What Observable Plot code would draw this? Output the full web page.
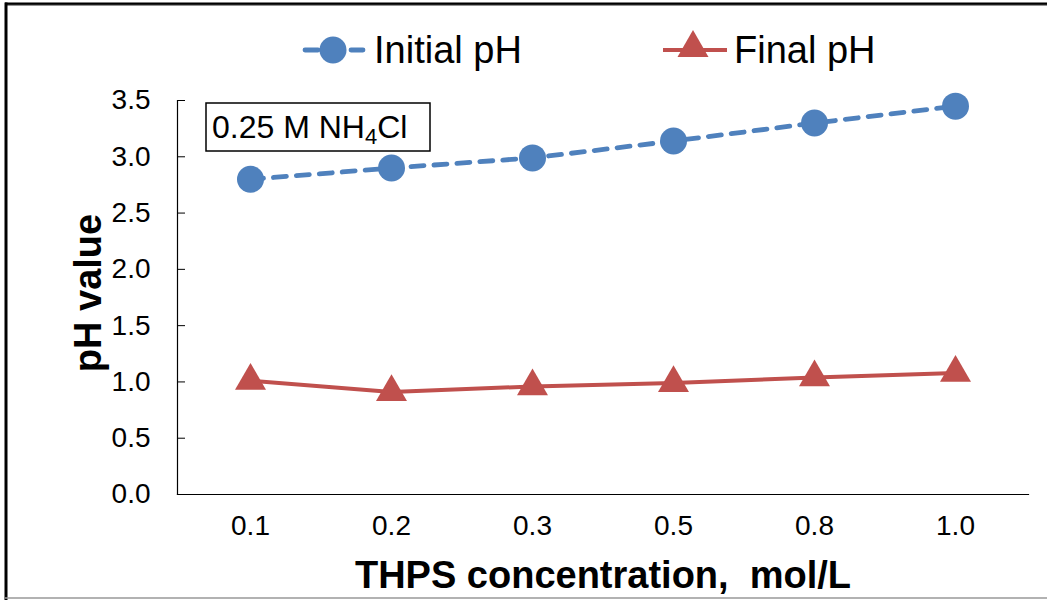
<!DOCTYPE html>
<html><head><meta charset="utf-8">
<script src="https://cdn.jsdelivr.net/npm/d3@7"></script>
<script src="https://cdn.jsdelivr.net/npm/@observablehq/plot@0.6"></script>
<style>
body{margin:0;background:#fff;}
#wrap{position:relative;width:1047px;height:600px;overflow:hidden;font-family:Arial,"Liberation Sans",sans-serif;background:#fff;}
#wrap svg{position:absolute;left:0;top:0;}
</style></head><body><div id="wrap"></div>
<script>
const concentrations = ["0.1", "0.2", "0.3", "0.5", "0.8", "1.0"];
const initialPH = [2.80, 2.90, 2.99, 3.14, 3.30, 3.45];
const finalPH = [1.01, 0.91, 0.96, 0.99, 1.04, 1.08];
const seriesNames = ["Initial pH", "Final pH"];
const yTicks = [0, 0.5, 1.0, 1.5, 2.0, 2.5, 3.0, 3.5];
const xTitle = "THPS concentration,\u00A0 mol/L";
const yTitle = "pH value";

const BLUE = "#4F81BD", RED = "#C0504D";
const initialData = concentrations.map((c, i) => ({c, v: initialPH[i]}));
const finalData = concentrations.map((c, i) => ({c, v: finalPH[i]}));

const chart = Plot.plot({
  width: 1047, height: 600,
  marginLeft: 177, marginRight: 19, marginTop: 100, marginBottom: 106,
  style: {fontFamily: 'Arial, "Liberation Sans", sans-serif', fontSize: "28px", color: "#000", background: "transparent", overflow: "visible"},
  x: {type: "point", domain: concentrations, padding: 0.5, label: null},
  y: {domain: [0, 3.5], label: null},
  marks: [
    Plot.frame({anchor: "left", stroke: "#000", strokeWidth: 1.2}),
    Plot.frame({anchor: "bottom", stroke: "#000", strokeWidth: 1.2}),
    Plot.axisY({ticks: yTicks, tickFormat: d => d.toFixed(1), tickSize: -8, tickPadding: 35, label: null, fill: "#000", fontSize: 28}),
    Plot.axisX({tickSize: 0, tickPadding: 21, label: null, fill: "#000", fontSize: 28}),
    Plot.line(initialData, {x: "c", y: "v", stroke: BLUE, strokeWidth: 4.8, strokeDasharray: "13,10", strokeLinecap: "round"}),
    Plot.dot(initialData, {x: "c", y: "v", r: 13.5, fill: BLUE, symbol: "circle"}),
    Plot.line(finalData, {x: "c", y: "v", stroke: RED, strokeWidth: 4}),
    Plot.dot(finalData, {x: "c", y: "v", r: 11.5, fill: RED, symbol: "triangle"})
  ]
});
const wrap = document.getElementById("wrap");
wrap.appendChild(chart);

// overlay: border, titles, legend, annotation
const ov = d3.select(wrap).append("svg").attr("width", 1047).attr("height", 600)
  .style("font-family", 'Arial, "Liberation Sans", sans-serif');
// border
ov.append("line").attr("x1", 5).attr("x2", 1047).attr("y1", 4).attr("y2", 4).attr("stroke", "#000").attr("stroke-width", 3);
ov.append("line").attr("x1", 1047).attr("x2", 5).attr("y1", 5.3).attr("y2", 5.3).attr("stroke", "#999").attr("stroke-width", 1);
ov.append("line").attr("x1", 6).attr("x2", 6).attr("y1", 2.5).attr("y2", 600).attr("stroke", "#000").attr("stroke-width", 3);
ov.append("line").attr("x1", 5).attr("x2", 1047).attr("y1", 598).attr("y2", 598).attr("stroke", "#999").attr("stroke-width", 1.5);

// axis titles
ov.append("text").attr("x", 603).attr("y", 588).attr("text-anchor", "middle")
  .attr("font-size", 38).attr("font-weight", "bold").text(xTitle);
ov.append("text").attr("transform", "translate(101,293) rotate(-90)").attr("text-anchor", "middle")
  .attr("font-size", 38).attr("font-weight", "bold").text(yTitle);

// legend
const lg = ov.append("g");
lg.append("line").attr("x1", 305).attr("x2", 363).attr("y1", 50).attr("y2", 50)
  .attr("stroke", BLUE).attr("stroke-width", 4.8).attr("stroke-dasharray", "13,10").attr("stroke-linecap", "round");
lg.append("circle").attr("cx", 333).attr("cy", 50).attr("r", 13.5).attr("fill", BLUE);
lg.append("text").attr("x", 374).attr("y", 63).attr("font-size", 38).text(seriesNames[0]);
lg.append("line").attr("x1", 663).attr("x2", 727).attr("y1", 50).attr("y2", 50)
  .attr("stroke", RED).attr("stroke-width", 4);
lg.append("path").attr("d", d3.symbol(d3.symbolTriangle, Math.PI * 11.5 * 11.5)()).attr("transform", "translate(693,48)").attr("fill", RED);
lg.append("text").attr("x", 734).attr("y", 63).attr("font-size", 38).text(seriesNames[1]);

// annotation box
ov.append("rect").attr("x", 206).attr("y", 103).attr("width", 224).attr("height", 48)
  .attr("fill", "#fff").attr("stroke", "#000").attr("stroke-width", 1.5);
const t = ov.append("text").attr("x", 212).attr("y", 138).attr("font-size", 32);
t.append("tspan").text("0.25 M NH");
t.append("tspan").attr("font-size", 22).attr("dy", 6).text("4");
t.append("tspan").attr("dy", -6).text("Cl");
</script>
</body></html>
